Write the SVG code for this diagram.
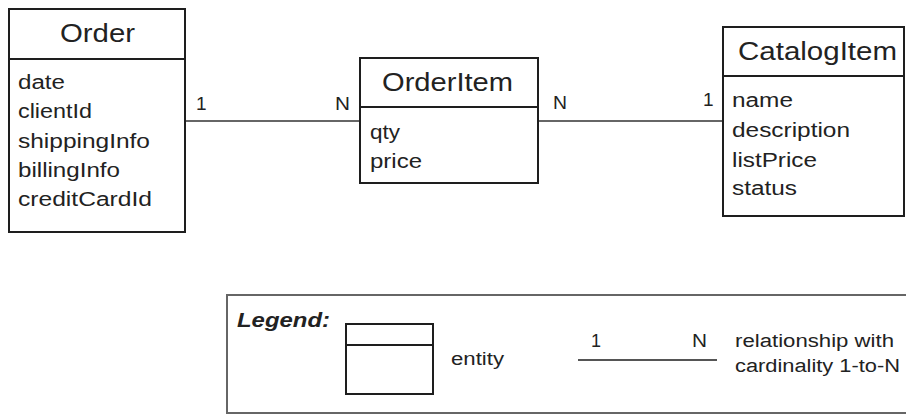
<svg xmlns="http://www.w3.org/2000/svg" width="906" height="415" viewBox="0 0 906 415">
<style>
.box{fill:#fff;stroke:#1e1e1e;stroke-width:2}
.div{stroke:#1e1e1e;stroke-width:2}
.conn{stroke:#333;stroke-width:1.6;fill:none}
.t{font-family:"Liberation Sans",Arial,sans-serif;fill:#222}
.title{font-size:25px}
.attr{font-size:20px}
.card{font-size:19px}
.leg{font-size:18px}
.legtitle{font-size:21px;font-weight:bold;font-style:italic}
</style>
<rect width="906" height="415" fill="#fff"/>
<g id="connectors">
<line class="conn" x1="185" y1="121" x2="360" y2="121"/>
<line class="conn" x1="538" y1="121" x2="723" y2="121"/>
<text class="t card" x="196" y="110">1</text>
<text class="t card" x="335" y="110" textLength="15" lengthAdjust="spacingAndGlyphs">N</text>
<text class="t card" x="553" y="109" textLength="14" lengthAdjust="spacingAndGlyphs">N</text>
<text class="t card" x="703" y="106">1</text>
</g>
<g id="order">
<rect class="box" x="9" y="9" width="176" height="223"/>
<line class="div" x1="9" y1="59" x2="185" y2="59"/>
<text class="t title" x="60" y="42" textLength="75" lengthAdjust="spacingAndGlyphs">Order</text>
<text class="t attr" x="18" y="89" textLength="47" lengthAdjust="spacingAndGlyphs">date</text>
<text class="t attr" x="18" y="118" textLength="74" lengthAdjust="spacingAndGlyphs">clientId</text>
<text class="t attr" x="18" y="148" textLength="132" lengthAdjust="spacingAndGlyphs">shippingInfo</text>
<text class="t attr" x="18" y="177" textLength="102" lengthAdjust="spacingAndGlyphs">billingInfo</text>
<text class="t attr" x="18" y="206" textLength="134" lengthAdjust="spacingAndGlyphs">creditCardId</text>
</g>
<g id="orderitem">
<rect class="box" x="360" y="58" width="178" height="125"/>
<line class="div" x1="360" y1="107" x2="538" y2="107"/>
<text class="t title" x="382" y="91" textLength="131" lengthAdjust="spacingAndGlyphs">OrderItem</text>
<text class="t attr" x="370" y="139" textLength="30" lengthAdjust="spacingAndGlyphs">qty</text>
<text class="t attr" x="370" y="168" textLength="52" lengthAdjust="spacingAndGlyphs">price</text>
</g>
<g id="catalogitem">
<rect class="box" x="723" y="27" width="181" height="189"/>
<line class="div" x1="723" y1="76" x2="904" y2="76"/>
<text class="t title" x="738" y="60" textLength="159" lengthAdjust="spacingAndGlyphs">CatalogItem</text>
<text class="t attr" x="732" y="107" textLength="61" lengthAdjust="spacingAndGlyphs">name</text>
<text class="t attr" x="732" y="137" textLength="118" lengthAdjust="spacingAndGlyphs">description</text>
<text class="t attr" x="732" y="167" textLength="85" lengthAdjust="spacingAndGlyphs">listPrice</text>
<text class="t attr" x="732" y="195" textLength="65" lengthAdjust="spacingAndGlyphs">status</text>
</g>
<g id="legend">
<rect x="227" y="295" width="690" height="118" fill="none" stroke="#666" stroke-width="2"/>
<text class="t legtitle" x="237" y="327" textLength="93" lengthAdjust="spacingAndGlyphs">Legend:</text>
<rect class="box" x="346" y="324" width="87" height="70"/>
<line class="div" x1="346" y1="345" x2="433" y2="345"/>
<text class="t leg" x="451" y="365" textLength="53" lengthAdjust="spacingAndGlyphs">entity</text>
<line x1="578" y1="360" x2="717" y2="360" stroke="#555" stroke-width="2"/>
<text class="t leg" x="591" y="347">1</text>
<text class="t leg" x="692" y="347" textLength="15" lengthAdjust="spacingAndGlyphs">N</text>
<text class="t leg" x="735" y="347" textLength="159" lengthAdjust="spacingAndGlyphs">relationship with</text>
<text class="t leg" x="735" y="372" textLength="165" lengthAdjust="spacingAndGlyphs">cardinality 1-to-N</text>
</g>
</svg>
